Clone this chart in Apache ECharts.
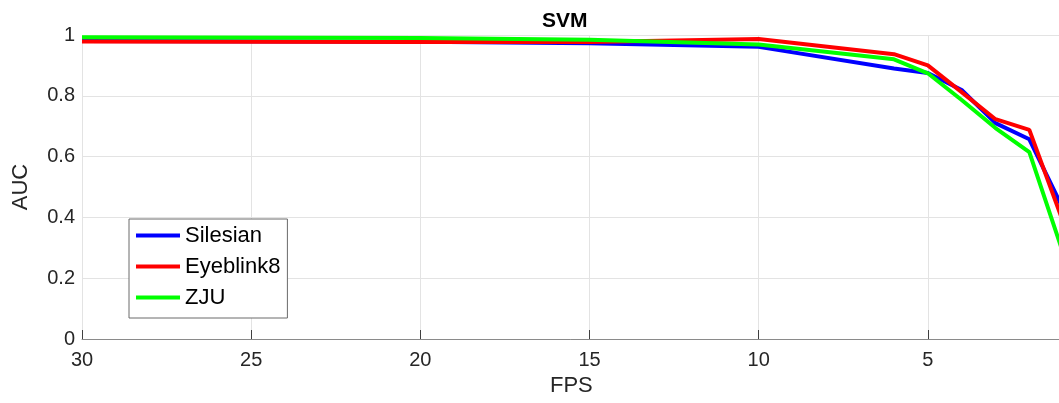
<!DOCTYPE html>
<html>
<head>
<meta charset="utf-8">
<script src="https://cdn.jsdelivr.net/npm/echarts@6/dist/echarts.min.js"></script>
<style>
html,body{margin:0;padding:0;background:#fff;}
#chart{width:1059px;height:403px;}
</style>
</head>
<body>
<div id="chart"></div>
<script>
const fps = [30, 20, 15, 10, 6, 5, 4, 3, 2, 1];
const silesian = [0.980, 0.978, 0.973, 0.961, 0.890, 0.875, 0.819, 0.710, 0.657, 0.428];
const eyeblink8 = [0.979, 0.977, 0.977, 0.987, 0.937, 0.900, 0.812, 0.723, 0.688, 0.385];
const zju = [0.993, 0.990, 0.984, 0.969, 0.920, 0.874, 0.786, 0.694, 0.615, 0.282];
const seriesNames = ['Silesian', 'Eyeblink8', 'ZJU'];
const seriesColors = ['#0000ff', '#ff0000', '#00ff00'];
const title = 'SVM';
const xLabel = 'FPS';
const yLabel = 'AUC';

const FONT = '"Liberation Sans", Arial, Helvetica, sans-serif';
const chart = echarts.init(document.getElementById('chart'), null, {renderer: 'canvas'});
const allData = [silesian, eyeblink8, zju];

chart.setOption({
  animation: false,
  backgroundColor: '#ffffff',
  title: {
    text: title,
    left: 537, top: 6,
    textStyle: {fontFamily: FONT, fontSize: 21, fontWeight: 'bold', color: '#000'}
  },
  grid: {left: 82, right: -38, top: 35, bottom: 64, containLabel: false, outerBoundsMode: 'none'},
  legend: {
    orient: 'vertical',
    left: 129, top: 219,
    data: seriesNames,
    icon: 'rect',
    itemWidth: 44, itemHeight: 4,
    itemGap: 8,
    padding: [5, 7, 9, 7],
    borderColor: '#6a6a6a', borderWidth: 1,
    backgroundColor: '#fff',
    textStyle: {fontFamily: FONT, fontSize: 22, color: '#000', lineHeight: 23, padding: [0, 0, 0, 0]}
  },
  xAxis: {
    type: 'value', inverse: true, min: 0, max: 30, interval: 5,
    axisLine: {show: true, onZero: false, lineStyle: {color: '#8a8a8a', width: 1}},
    axisTick: {show: true, inside: true, length: 9, lineStyle: {color: '#404040', width: 1}},
    axisLabel: {fontFamily: FONT, fontSize: 20, color: '#262626', margin: 11},
    splitLine: {show: true, lineStyle: {color: '#e3e3e3', width: 1}}
  },
  yAxis: {
    type: 'value', min: 0, max: 1, interval: 0.2,
    axisLine: {show: true, lineStyle: {color: '#8a8a8a', width: 1}},
    axisTick: {show: true, inside: true, length: 9, lineStyle: {color: '#404040', width: 1}},
    axisLabel: {fontFamily: FONT, fontSize: 20, color: '#262626', margin: 7,
      formatter: v => String(Math.round(v * 10) / 10)},
    splitLine: {show: true, lineStyle: {color: '#e3e3e3', width: 1}}
  },
  graphic: [
    {type: 'text', left: 573 - 23, top: 375,
      style: {text: xLabel, font: '22px ' + FONT, fill: '#262626'}},
    {type: 'text', x: 21, y: 187, rotation: Math.PI / 2,
      style: {text: yLabel, font: '22px ' + FONT, fill: '#262626', align: 'center', verticalAlign: 'middle'}}
  ],
  series: seriesNames.map((name, i) => ({
    name: name,
    type: 'line',
    data: fps.map((f, j) => [f, allData[i][j]]),
    showSymbol: false,
    symbol: 'none',
    color: seriesColors[i],
    lineStyle: {color: seriesColors[i], width: 4},
    z: 2 + i
  }))
});
</script>
</body>
</html>
